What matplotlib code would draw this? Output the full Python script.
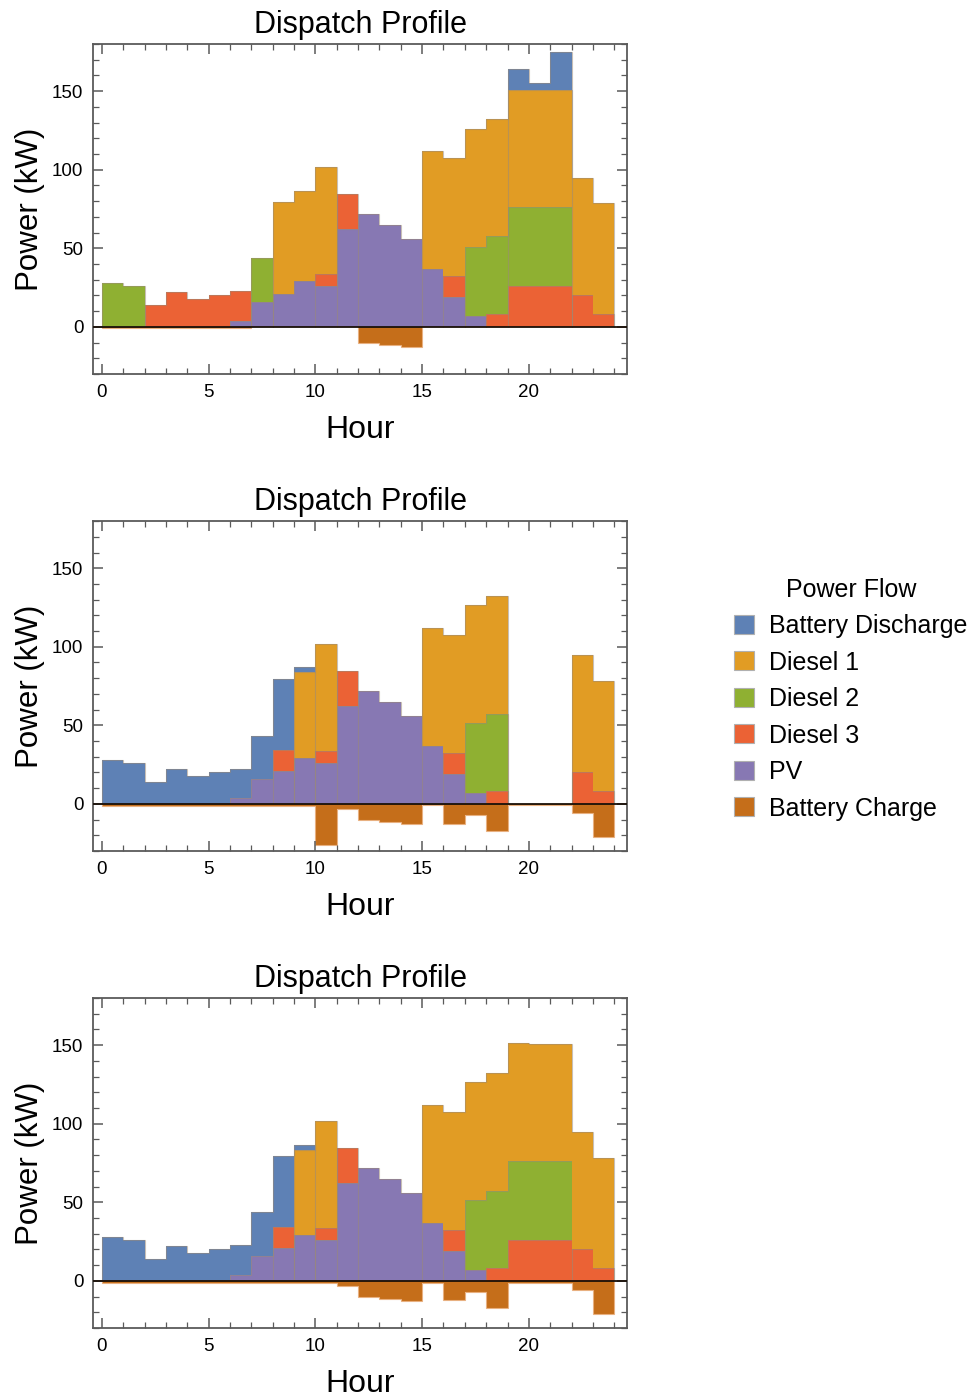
import matplotlib
matplotlib.use("Agg")
import matplotlib.pyplot as plt
import numpy as np
from matplotlib.patches import Patch
from matplotlib.ticker import MultipleLocator

plt.rcParams["font.family"] = ["Liberation Sans", "DejaVu Sans"]

hours = np.arange(25)

# PV output is the same in every scenario
pv = [0, 0, 0, 0, 0, 0, 3.5, 16, 21, 29, 26, 62, 72, 65, 56, 37, 19, 7, 0, 0, 0, 0, 0, 0]

# scenario A
bd_a = [0, 0, 0, 0, 0, 0, 0, 0, 0, 0, 0, 0, 0, 0, 0, 0, 0, 0, 0, 13, 4.5, 24, 0, 0]
d1_a = [0, 0, 0, 0, 0, 0, 0, 0, 58.5, 57.5, 68.5, 0, 0, 0, 0, 75, 75, 75, 75, 75, 75, 75, 75, 70.5]
d2_a = [28, 26, 0, 0, 0, 0, 0, 27.5, 0, 0, 0, 0, 0, 0, 0, 0, 0, 44, 49.5, 50, 50, 50, 0, 0]
d3_a = [0, 0, 14, 22, 18, 20, 19, 0, 0, 0, 7.5, 22.5, 0, 0, 0, 0, 13.5, 0, 8, 26, 26, 26, 20, 8]
ch_a = [-1, -1, -1, -1, -1, -1, -1, 0, 0, 0, 0, 0, -10.5, -11.5, -13, 0, 0, 0, 0, 0, 0, 0, 0, 0]

# scenario B
bd_b = [28, 26, 14, 22, 18, 20, 19, 27.5, 45, 3, 0, 0, 0, 0, 0, 0, 0, 0, 0, 0, 0, 0, 0, 0]
d1_b = [0, 0, 0, 0, 0, 0, 0, 0, 0, 55, 68.5, 0, 0, 0, 0, 75, 75, 75, 75, 0, 0, 0, 75, 70.5]
d2_b = [0, 0, 0, 0, 0, 0, 0, 0, 0, 0, 0, 0, 0, 0, 0, 0, 0, 44.5, 49.5, 0, 0, 0, 0, 0]
d3_b = [0, 0, 0, 0, 0, 0, 0, 0, 13.5, 0, 7.5, 22.5, 0, 0, 0, 0, 13.5, 0, 8, 0, 0, 0, 20, 8]
ch_b = [-1.3, -1.3, -1.3, -1.3, -1.3, -1.3, -1.3, -1.3, -1.3, -1.3, -26, -3, -10.5, -11.5, -13,
        -1, -12.5, -7, -17, -1, -1, -1, -6, -21]

# scenario C
bd_c = [28, 26, 14, 22, 18, 20, 19, 27.5, 45, 3, 0, 0, 0, 0, 0, 0, 0, 0, 0, 0, 0, 0, 0, 0]
d1_c = [0, 0, 0, 0, 0, 0, 0, 0, 0, 54.5, 68.5, 0, 0, 0, 0, 75, 75, 75, 75, 75.5, 75, 75, 75, 70.5]
d2_c = [0, 0, 0, 0, 0, 0, 0, 0, 0, 0, 0, 0, 0, 0, 0, 0, 0, 44.5, 49.5, 50, 50, 50, 0, 0]
d3_c = [0, 0, 0, 0, 0, 0, 0, 0, 13.5, 0, 7.5, 22.5, 0, 0, 0, 0, 13.5, 0, 8, 26, 26, 26, 20, 8]
ch_c = [-1.3, -1.3, -1.3, -1.3, -1.3, -1.3, -1.3, -1.3, -1.3, -1.3, -1.3, -3, -10.5, -11.5, -13,
        -1.5, -12.5, -7, -17, -1.3, -1.3, -1.3, -6, -21]

labels = ["Battery Discharge", "Diesel 1", "Diesel 2", "Diesel 3", "PV", "Battery Charge"]
colors = ["#5E81B5", "#E19C24", "#8FB032", "#EB6235", "#8778B3", "#C56E1A"]

scenarios = [
    (bd_a, d1_a, d2_a, d3_a, ch_a),
    (bd_b, d1_b, d2_b, d3_b, ch_b),
    (bd_c, d1_c, d2_c, d3_c, ch_c),
]

fig = plt.figure(figsize=(9.75, 13.97), dpi=100)
frame_col = "#5a5a5a"
bottoms = [0.7323, 0.3908, 0.0494]

for (bd, d1, d2, d3, ch), y0 in zip(scenarios, bottoms):
    ax = fig.add_axes([0.0954, y0, 0.5477, 0.2362])

    # stack from the bottom: PV, Diesel 3, Diesel 2, Diesel 1, Battery Discharge
    layers = [(pv, colors[4]), (d3, colors[3]), (d2, colors[2]),
              (d1, colors[1]), (bd, colors[0])]
    base = np.zeros(24)
    for vals, col in layers:
        vals = np.asarray(vals, dtype=float)
        top = base + vals
        mask = vals > 0
        if mask.any():
            ax.stairs(np.where(mask, top, base), hours, baseline=base,
                      fill=True, color=col, lw=0)
            ax.stairs(np.where(mask, top, np.nan), hours, color="#9a8a78",
                      lw=0.8, alpha=0.55)
        base = top

    ch = np.asarray(ch, dtype=float)
    ax.stairs(ch, hours, baseline=0, fill=True, color=colors[5], lw=0)
    ax.stairs(np.where(ch < -0.5, ch, np.nan), hours, color="#e8b080", lw=0.8)

    ax.axhline(0, color="#1a1008", lw=1.3, zorder=5)

    ax.set_xlim(-0.42, 24.6)
    ax.set_ylim(-30, 180)
    ax.xaxis.set_major_locator(MultipleLocator(5))
    ax.xaxis.set_minor_locator(MultipleLocator(1))
    ax.yaxis.set_major_locator(MultipleLocator(50))
    ax.yaxis.set_minor_locator(MultipleLocator(10))
    ax.tick_params(which="both", direction="in", top=True, right=True,
                   color=frame_col, labelsize=13.5, pad=7)
    ax.tick_params(which="major", length=7, width=1.1)
    ax.tick_params(which="minor", length=4, width=0.9)
    for sp in ax.spines.values():
        sp.set_color(frame_col)
        sp.set_linewidth(1.3)

    ax.set_title("Dispatch Profile", fontsize=22, pad=8)
    ax.set_xlabel("Hour", fontsize=23, labelpad=10)
    ax.set_ylabel("Power (kW)", fontsize=22.5, labelpad=5)

handles = [Patch(facecolor=c, edgecolor="#b0b0b0", lw=0.8) for c in colors]
fig.legend(handles, labels, title="Power Flow", loc="upper left",
           bbox_to_anchor=(0.7405, 0.5955), frameon=False, fontsize=18,
           title_fontsize=18, handlelength=0.8, handleheight=0.8,
           handletextpad=0.6, labelspacing=0.5, borderpad=0.0)

fig.savefig("out.png", dpi=100)
